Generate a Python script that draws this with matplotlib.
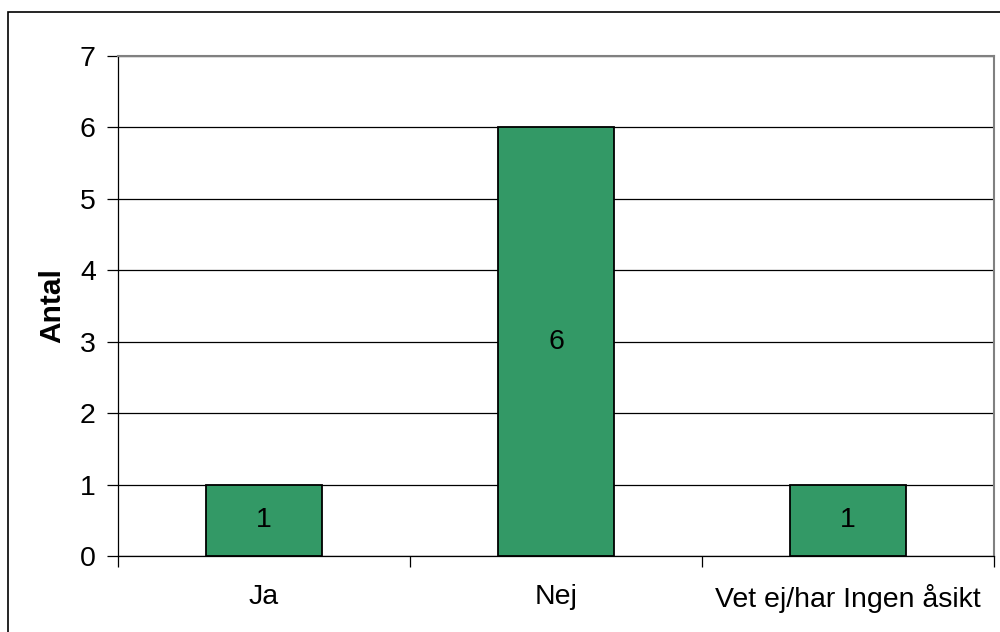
import numpy as np
import matplotlib.pyplot as plt
from matplotlib.patches import Rectangle

# data
categories = ["Ja", "Nej", "Vet ej/har Ingen åsikt"]
counts = [1, 6, 1]

plt.rcParams["font.family"] = ["Liberation Sans", "DejaVu Sans"]

fig = plt.figure(figsize=(10, 6.32), dpi=100)
ax = fig.add_axes([0.118, 0.1203, 0.876, 0.7911])

# outer chart frame (left/top visible)
fig.patches.append(Rectangle((0.008, -0.1), 1.2, 1.081, transform=fig.transFigure,
                             fill=False, edgecolor="black", linewidth=1.2))

x = np.arange(len(categories))
bars = ax.bar(x, counts, width=0.395, color="#339966", edgecolor="black",
              linewidth=1.3, zorder=3)
for xi, v in zip(x, counts):
    ax.text(xi, v / 2, str(v), ha="center", va="center", fontsize=20.5, zorder=4)

ax.set_xlim(-0.5, len(categories) - 0.5)
ax.set_ylim(0, 7)
ax.set_yticks(range(0, 8))
ax.yaxis.grid(True, color="black", linewidth=0.9, zorder=0)
ax.set_axisbelow(True)

ax.set_xticks(x)
ax.set_xticklabels(categories)
ax.set_xticks(np.arange(-0.5, len(categories)), minor=True)
ax.tick_params(axis="x", which="major", length=0, pad=20, labelsize=20.5)
ax.tick_params(axis="x", which="minor", length=8, direction="out", width=0.9)
ax.tick_params(axis="y", length=8, width=0.9, pad=8, labelsize=20.5)

for side in ["top", "right"]:
    ax.spines[side].set_color("#808080")
    ax.spines[side].set_linewidth(1.5)
ax.spines["left"].set_linewidth(0.9)
ax.spines["bottom"].set_linewidth(0.9)

ax.set_ylabel("Antal", fontsize=21.5, fontweight="bold", labelpad=10)

fig.savefig("out.png", dpi=100)
